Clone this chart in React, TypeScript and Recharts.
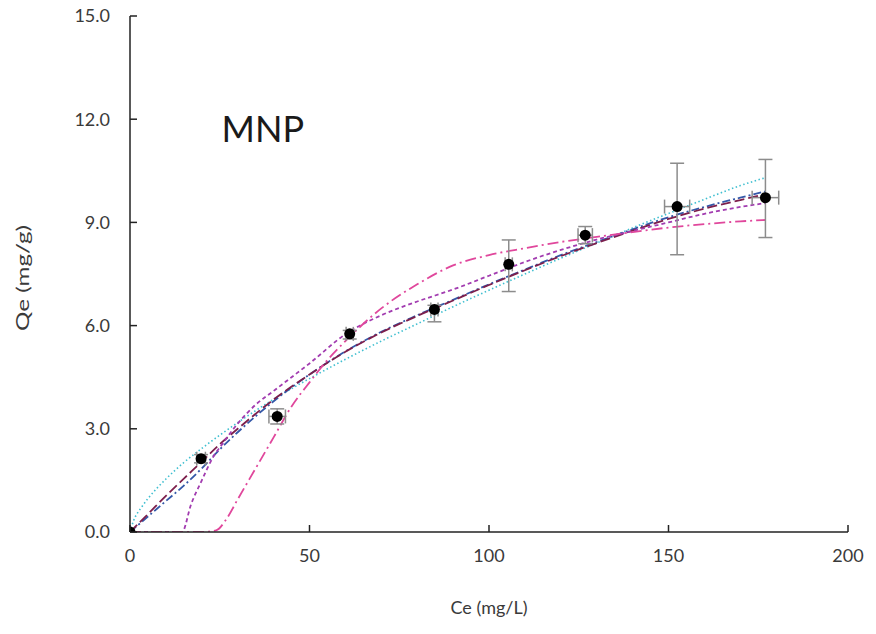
import React from 'react';
import { ComposedChart, Line, Scatter, XAxis, YAxis, ErrorBar, ReferenceDot } from 'recharts';

// Observed data
const ceObs = [0, 19.8, 41, 61.2, 84.8, 105.5, 126.8, 152.4, 177];
const qeObs = [0, 2.13, 3.36, 5.76, 6.47, 7.78, 8.63, 9.46, 9.72];
const qeErrLow = [0, 0.12, 0.22, 0.15, 0.36, 0.79, 0.25, 1.4, 1.16];
const qeErrHigh = [0, 0.12, 0.22, 0.1, 0.12, 0.71, 0.25, 1.26, 1.11];
const ceErr = [0, 1.2, 2.3, 1.0, 1.0, 1.0, 2.0, 3.5, 3.7];

// Fitted model curves
const cyanX = [0, 1, 3, 5, 10, 15, 20, 30, 40, 50, 60, 70, 80, 90, 100, 110, 120, 130, 140, 150, 160, 170, 177];
const cyanY = [0, 0.33, 0.69, 0.97, 1.54, 2.02, 2.43, 3.18, 3.86, 4.46, 5.02, 5.55, 6.05, 6.55, 7.03, 7.5, 7.96, 8.4, 8.84, 9.26, 9.67, 10.07, 10.3];

const blueX = [0, 5, 10, 15, 20, 25, 30, 40, 50, 60, 70, 80, 90, 100, 110, 120, 130, 140, 150, 160, 170, 177];
const blueY = [0, 0.45, 0.9, 1.35, 1.85, 2.4, 2.9, 3.8, 4.58, 5.25, 5.82, 6.3, 6.75, 7.2, 7.63, 8.05, 8.43, 8.8, 9.15, 9.45, 9.72, 9.9];

const maroonX = [0, 5, 10, 15, 20, 25, 30, 40, 50, 60, 70, 80, 90, 100, 110, 120, 130, 140, 150, 160, 170, 177];
const maroonY = [0, 0.52, 1.05, 1.55, 2.05, 2.55, 3.0, 3.85, 4.58, 5.24, 5.8, 6.28, 6.73, 7.18, 7.61, 8.02, 8.4, 8.76, 9.1, 9.4, 9.65, 9.82];

const purpleX = [0, 5, 10, 14.5, 17, 20, 23, 26, 30, 35, 40, 45, 50, 60, 70, 80, 90, 100, 110, 120, 130, 140, 150, 160, 170, 177];
const purpleY = [0, 0, 0, 0, 0.8, 1.5, 2.15, 2.6, 3.15, 3.7, 4.1, 4.5, 4.9, 5.75, 6.3, 6.7, 7.05, 7.45, 7.85, 8.2, 8.5, 8.75, 9.0, 9.25, 9.45, 9.56];

const pinkX = [0, 10, 20, 24, 27, 30, 35, 40, 45, 50, 55, 60, 70, 80, 90, 100, 110, 120, 130, 140, 150, 160, 170, 177];
const pinkY = [0, 0, 0, 0.05, 0.4, 0.95, 1.85, 2.75, 3.65, 4.35, 5.0, 5.55, 6.5, 7.2, 7.75, 8.05, 8.25, 8.43, 8.58, 8.72, 8.85, 8.95, 9.03, 9.07];

// Axis ticks
const xTicks = [0, 50, 100, 150, 200];
const yTicks = [0, 3, 6, 9, 12, 15];

const annotationText = 'MNP';
const annotationX = 37;
const annotationY = 11.7;

const xTitle = 'Ce (mg/L)';
const yTitle = 'Qe (mg/g)';

const toSeries = (xs: number[], ys: number[]) => xs.map((x, i) => ({ x, y: ys[i] }));

const obsData = ceObs.map((x, i) => ({ x, y: qeObs[i], ey: [qeErrLow[i], qeErrHigh[i]], ex: ceErr[i] }));
const errData = obsData.filter((d, i) => qeErrLow[i] > 0);

const FONT = 'Lato, "Open Sans", "DejaVu Sans", sans-serif';
const AXIS = '#222';
const TEXT = '#3a3a3a';

const XTick = (props: any) => {
  const { x, y, payload } = props;
  return (
    <g>
      <line x1={x} x2={x} y1={y} y2={y - 7} stroke={AXIS} strokeWidth={1.5} />
      <text x={x} y={y + 30} textAnchor="middle" fontSize={18} fill={TEXT} fontFamily={FONT}>
        {payload.value}
      </text>
    </g>
  );
};

const YTick = (props: any) => {
  const { x, y, payload } = props;
  return (
    <g>
      <line x1={x} x2={x + 7} y1={y} y2={y} stroke={AXIS} strokeWidth={1.5} />
      <text x={x - 20} y={y} dy="0.36em" textAnchor="end" fontSize={18} fill={TEXT} fontFamily={FONT}>
        {Number(payload.value).toFixed(1)}
      </text>
    </g>
  );
};

const XTitle = (props: any) => {
  const vb = props.viewBox || {};
  return (
    <text x={vb.x + vb.width / 2} y={vb.y + 82} textAnchor="middle" fontSize={18} fill={TEXT} fontFamily={FONT}>
      {xTitle}
    </text>
  );
};

const YTitle = (props: any) => {
  const vb = props.viewBox || {};
  const cx = vb.x + 29;
  const cy = vb.y + vb.height / 2 + 4;
  return (
    <text
      x={cx}
      y={cy}
      transform={`rotate(-90, ${cx}, ${cy})`}
      textAnchor="middle"
      fontSize={18}
      textLength={106}
      lengthAdjust="spacingAndGlyphs"
      fill={TEXT}
      fontFamily={FONT}
    >
      {yTitle}
    </text>
  );
};

const Dot = (props: any) => <circle cx={props.cx} cy={props.cy} r={5.5} fill="#000" />;
const NoShape = () => <g />;

export default function App() {
  return (
    <div style={{ width: 876, height: 634, margin: '-8px 0 0 -8px', fontFamily: FONT, background: '#fff' }}>
      <ComposedChart width={876} height={634} margin={{ top: 16, right: 28, bottom: 0, left: 0 }}>
        <XAxis
          type="number"
          dataKey="x"
          domain={[0, 200]}
          ticks={xTicks}
          interval={0}
          allowDataOverflow
          height={102}
          tickSize={0}
          tickMargin={0}
          tickLine={false}
          tick={<XTick />}
          axisLine={{ stroke: AXIS, strokeWidth: 1.5 }}
          label={<XTitle />}
        />
        <YAxis
          type="number"
          dataKey="y"
          domain={[0, 15]}
          ticks={yTicks}
          interval={0}
          allowDataOverflow
          width={130}
          tickSize={0}
          tickMargin={0}
          tickLine={false}
          tick={<YTick />}
          axisLine={{ stroke: AXIS, strokeWidth: 1.5 }}
          label={<YTitle />}
        />
        <Line data={toSeries(cyanX, cyanY)} dataKey="y" type="monotone" stroke="#3fbfd0" strokeWidth={1.6} strokeDasharray="1.5 2.5" dot={false} isAnimationActive={false} />
        <Line data={toSeries(blueX, blueY)} dataKey="y" type="monotone" stroke="#3458a8" strokeWidth={1.8} strokeDasharray="8 3 2 3" dot={false} isAnimationActive={false} />
        <Line data={toSeries(maroonX, maroonY)} dataKey="y" type="monotone" stroke="#7d1f4c" strokeWidth={1.8} strokeDasharray="10 4" dot={false} isAnimationActive={false} />
        <Line data={toSeries(purpleX, purpleY)} dataKey="y" type="monotone" stroke="#a23cb0" strokeWidth={1.8} strokeDasharray="4 3" dot={false} isAnimationActive={false} />
        <Line data={toSeries(pinkX, pinkY)} dataKey="y" type="monotone" stroke="#e0479c" strokeWidth={1.8} strokeDasharray="11 4 2 4" dot={false} isAnimationActive={false} />
        <Scatter data={errData} dataKey="y" shape={<NoShape />} isAnimationActive={false}>
          <ErrorBar dataKey="ey" direction="y" width={7} stroke="#8c8c8c" strokeWidth={1.5} isAnimationActive={false} />
          <ErrorBar dataKey="ex" direction="x" width={7} stroke="#8c8c8c" strokeWidth={1.5} isAnimationActive={false} />
        </Scatter>
        <Scatter data={obsData} dataKey="y" shape={<Dot />} isAnimationActive={false} />
        <ReferenceDot
          x={annotationX}
          y={annotationY}
          r={0}
          fill="none"
          stroke="none"
          label={{ value: annotationText, position: 'center', fontSize: 36, fill: '#1a1a1a', fontFamily: FONT }}
        />
      </ComposedChart>
    </div>
  );
}
